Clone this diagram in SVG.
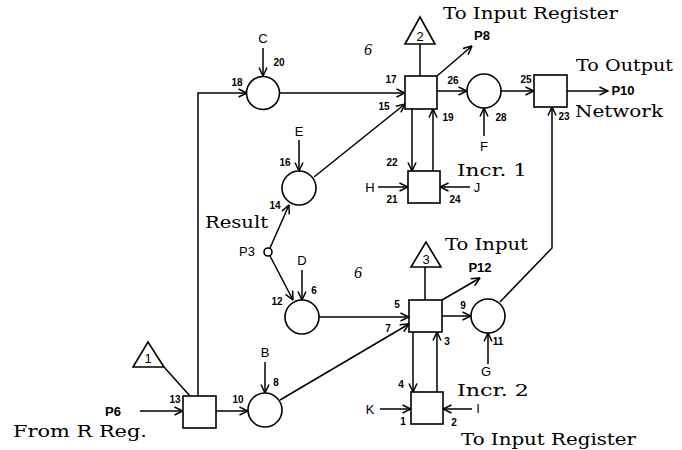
<svg xmlns="http://www.w3.org/2000/svg" width="682" height="450" viewBox="0 0 682 450">
<style>
.n{fill:#fff;stroke:#000;stroke-width:1.6}
.c line,.c polyline{stroke:#000;stroke-width:1.5;fill:none}
.a{marker-end:url(#ah)}
.s{font-family:"Liberation Sans",Arial,sans-serif;font-size:13px;fill:#000;text-anchor:middle}
.num{font-family:"Liberation Sans",Arial,sans-serif;font-size:10px;font-weight:bold;fill:#000;text-anchor:middle}
.t{font-family:"DejaVu Serif","Liberation Serif",serif;font-size:17px;fill:#000}
.h{font-family:"Liberation Serif",serif;font-style:italic;font-size:16px;fill:#000;text-anchor:middle}
</style>
<defs>
<marker id="ah" viewBox="0 0 10 10" refX="9.5" refY="5" markerWidth="10" markerHeight="10" orient="auto" markerUnits="userSpaceOnUse">
<path d="M1,1 L9.5,5 L1,9" fill="none" stroke="#000" stroke-width="1.5"/>
</marker>
</defs>
<rect width="682" height="450" fill="#fff"/>

<g id="connectors" class="c">
<polyline class="a" points="198,396 198,93 247,93"/>
<line class="a" x1="263" y1="48" x2="263" y2="76"/>
<line class="a" x1="280" y1="93" x2="405" y2="93"/>
<line x1="420" y1="44" x2="420" y2="76"/>
<line class="a" x1="437" y1="76" x2="472" y2="46"/>
<line class="a" x1="314" y1="177" x2="405" y2="104"/>
<line class="a" x1="437" y1="91" x2="467" y2="91"/>
<line class="a" x1="484" y1="136" x2="484" y2="108"/>
<line class="a" x1="501" y1="91" x2="534" y2="91"/>
<line class="a" x1="567" y1="91" x2="608" y2="91"/>
<line class="a" x1="412" y1="109" x2="412" y2="171"/>
<line class="a" x1="433" y1="171" x2="433" y2="109"/>
<line class="a" x1="378" y1="187" x2="408" y2="187"/>
<line class="a" x1="470" y1="187" x2="440" y2="187"/>
<line class="a" x1="299" y1="140" x2="299" y2="171"/>
<line class="a" x1="270" y1="248" x2="289" y2="205"/>
<line class="a" x1="270" y1="256" x2="293" y2="300"/>
<line class="a" x1="302" y1="270" x2="302" y2="300"/>
<line class="a" x1="319" y1="317" x2="409" y2="317"/>
<line x1="425" y1="267" x2="425" y2="300"/>
<line class="a" x1="442" y1="300" x2="480" y2="278"/>
<line class="a" x1="442" y1="316" x2="471" y2="316"/>
<line class="a" x1="488" y1="364" x2="488" y2="333"/>
<polyline class="a" points="500,302 552,248 552,107"/>
<line class="a" x1="413" y1="332" x2="413" y2="392"/>
<line class="a" x1="437" y1="392" x2="437" y2="332"/>
<line class="a" x1="380" y1="409" x2="411" y2="409"/>
<line class="a" x1="472" y1="409" x2="443" y2="409"/>
<line x1="164" y1="367" x2="190" y2="396"/>
<line class="a" x1="140" y1="411" x2="183" y2="411"/>
<line class="a" x1="216" y1="411" x2="248" y2="411"/>
<line class="a" x1="265" y1="362" x2="265" y2="393"/>
<line class="a" x1="280" y1="400" x2="409" y2="324"/>
</g>

<g id="circleC"><circle class="n" cx="263" cy="93" r="16.5"/><text class="s" x="263" y="43">C</text><text class="num" x="279" y="66">20</text><text class="num" x="237" y="86">18</text></g>
<g id="box17"><rect class="n" x="405" y="76" width="32" height="33"/><text class="num" x="391" y="83">17</text><text class="num" x="384" y="110">15</text><text class="num" x="448" y="121">19</text></g>
<g id="tri2"><polygon class="n" points="420,17 405,44 435,44"/><text class="s" x="420" y="41">2</text></g>
<g id="p8"><text class="s" x="482" y="40" font-weight="bold">P8</text></g>
<g id="circle26"><circle class="n" cx="484" cy="91" r="17"/><text class="num" x="453" y="84">26</text><text class="num" x="501" y="121">28</text><text class="s" x="484" y="151">F</text></g>
<g id="box25"><rect class="n" x="534" y="75" width="33" height="32"/><text class="num" x="526" y="83">25</text><text class="num" x="564" y="120">23</text><text class="s" x="623" y="95" font-weight="bold">P10</text></g>
<g id="box21"><rect class="n" x="408" y="171" width="32" height="32"/><text class="num" x="392" y="166">22</text><text class="s" x="370" y="192">H</text><text class="num" x="392" y="203">21</text><text class="s" x="477" y="192">J</text><text class="num" x="455" y="203">24</text></g>
<g id="circleE"><circle class="n" cx="299" cy="188" r="17"/><text class="s" x="299" y="136">E</text><text class="num" x="285" y="166">16</text><text class="num" x="275" y="209">14</text></g>
<g id="p3"><circle class="n" cx="268" cy="252" r="4" stroke-width="1.3"/><text class="s" x="247" y="256">P3</text></g>
<g id="circleD"><circle class="n" cx="302" cy="317" r="17"/><text class="s" x="302" y="265">D</text><text class="num" x="314" y="294">6</text><text class="num" x="277" y="305">12</text></g>
<g id="box5"><rect class="n" x="409" y="300" width="33" height="32"/><text class="num" x="397" y="308">5</text><text class="num" x="388" y="332">7</text><text class="num" x="447" y="345">3</text><text class="num" x="401" y="388">4</text></g>
<g id="tri3"><polygon class="n" points="426,242 411,267 441,267"/><text class="s" x="426" y="264">3</text></g>
<g id="p12"><text class="s" x="480" y="272" font-weight="bold">P12</text></g>
<g id="circle9"><circle class="n" cx="488" cy="316" r="17"/><text class="num" x="463" y="309">9</text><text class="num" x="498" y="345">11</text><text class="s" x="486" y="376" font-size="12">G</text></g>
<g id="box1"><rect class="n" x="411" y="392" width="32" height="32"/><text class="s" x="370" y="414">K</text><text class="num" x="403" y="425">1</text><text class="s" x="478" y="413">I</text><text class="num" x="454" y="426">2</text></g>
<g id="box13"><rect class="n" x="183" y="396" width="33" height="32"/><text class="num" x="175" y="403">13</text><text class="s" x="113" y="416" font-weight="bold">P6</text></g>
<g id="tri1"><polygon class="n" points="148,342 133,367 164,367"/><text class="s" x="148" y="363">1</text></g>
<g id="circleB"><circle class="n" cx="265" cy="410" r="17"/><text class="s" x="265" y="357">B</text><text class="num" x="276" y="386">8</text><text class="num" x="238" y="403">10</text></g>

<g id="labels">
<text class="t" x="443" y="19" textLength="175" lengthAdjust="spacingAndGlyphs">To Input Register</text>
<text class="t" x="576" y="71" textLength="97" lengthAdjust="spacingAndGlyphs">To Output</text>
<text class="t" x="575" y="117" textLength="88" lengthAdjust="spacingAndGlyphs">Network</text>
<text class="t" x="457" y="176" textLength="70" lengthAdjust="spacingAndGlyphs">Incr. 1</text>
<text class="t" x="205" y="228" textLength="63" lengthAdjust="spacingAndGlyphs">Result</text>
<text class="t" x="445" y="250" textLength="83" lengthAdjust="spacingAndGlyphs">To Input</text>
<text class="t" x="457" y="396" textLength="72" lengthAdjust="spacingAndGlyphs">Incr. 2</text>
<text class="t" x="13" y="437" textLength="134" lengthAdjust="spacingAndGlyphs">From R Reg.</text>
<text class="t" x="461" y="445" textLength="175" lengthAdjust="spacingAndGlyphs">To Input Register</text>
<text class="h" x="368" y="55">6</text>
<text class="h" x="358" y="278">6</text>
</g>
</svg>
